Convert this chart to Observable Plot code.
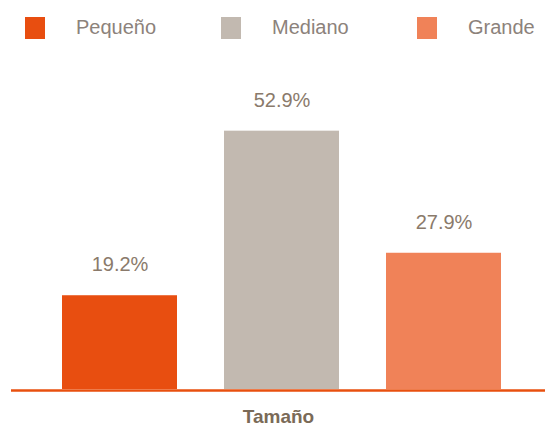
<!DOCTYPE html>
<html><head><meta charset="utf-8">
<script src="https://cdn.jsdelivr.net/npm/d3@7"></script>
<script src="https://cdn.jsdelivr.net/npm/@observablehq/plot@0.6"></script>
<style>
body{margin:0;background:#fff;font-family:"Liberation Sans",Arial,Helvetica,sans-serif;}
#wrap{width:545px;height:428px;position:relative;overflow:hidden}
#legend{position:relative;height:50px;width:545px}
.item{position:absolute;top:17px;height:22px;display:flex;align-items:center}
.sw{width:20px;height:22px}
.lb{position:absolute;font-size:20px;color:#8c827b;white-space:nowrap}
</style></head>
<body><div id="wrap"><div id="legend"></div><div id="chart"></div></div>
<script>
const categories = ["Pequeño", "Mediano", "Grande"];
const values = [19.2, 52.9, 27.9];
const labels = ["19.2%", "52.9%", "27.9%"];
const colors = ["#e84e10", "#c2b9b0", "#f08258"];
const axisTitle = "Tamaño";

const data = categories.map((c, i) => ({cat: c, v: values[i], lab: labels[i]}));

// legend
const leg = document.getElementById("legend");
categories.forEach((c, i) => {
  const x0 = 25 + i * 196;
  const it = document.createElement("div");
  it.className = "item"; it.style.left = x0 + "px";
  it.innerHTML = `<div class="sw" style="background:${colors[i]}"></div>`;
  leg.appendChild(it);
  const t = document.createElement("div");
  t.className = "lb"; t.textContent = c;
  t.style.left = (x0 + 51) + "px"; t.style.top = "15px"; t.style.lineHeight = "24px";
  leg.appendChild(t);
});

const chart = Plot.plot({
  width: 545, height: 378,
  marginLeft: 11, marginRight: 0, marginTop: 46, marginBottom: 39,
  style: {fontFamily: '"Liberation Sans", Arial, Helvetica, sans-serif', background: "#fff", overflow: "visible"},
  x: {domain: categories, paddingInner: 0.292, paddingOuter: 0.289, align: 0.53, axis: null},
  y: {domain: [0, 60], axis: null},
  color: {domain: categories, range: colors},
  marks: [
    Plot.barY(data, {x: "cat", y: "v", fill: "cat"}),
    Plot.ruleY([0], {stroke: "#e8500f", strokeWidth: 2.5, dy: 1}),
    Plot.text(data, {x: "cat", y: "v", text: "lab", dy: -31, fontSize: 20, fill: "#8a7a6b"}),
    Plot.text([axisTitle], {frameAnchor: "bottom", text: d => d, dy: 33, fontSize: 19, fontWeight: "bold", fill: "#7a6a57"})
  ]
});
document.getElementById("chart").appendChild(chart);
</script></body></html>
